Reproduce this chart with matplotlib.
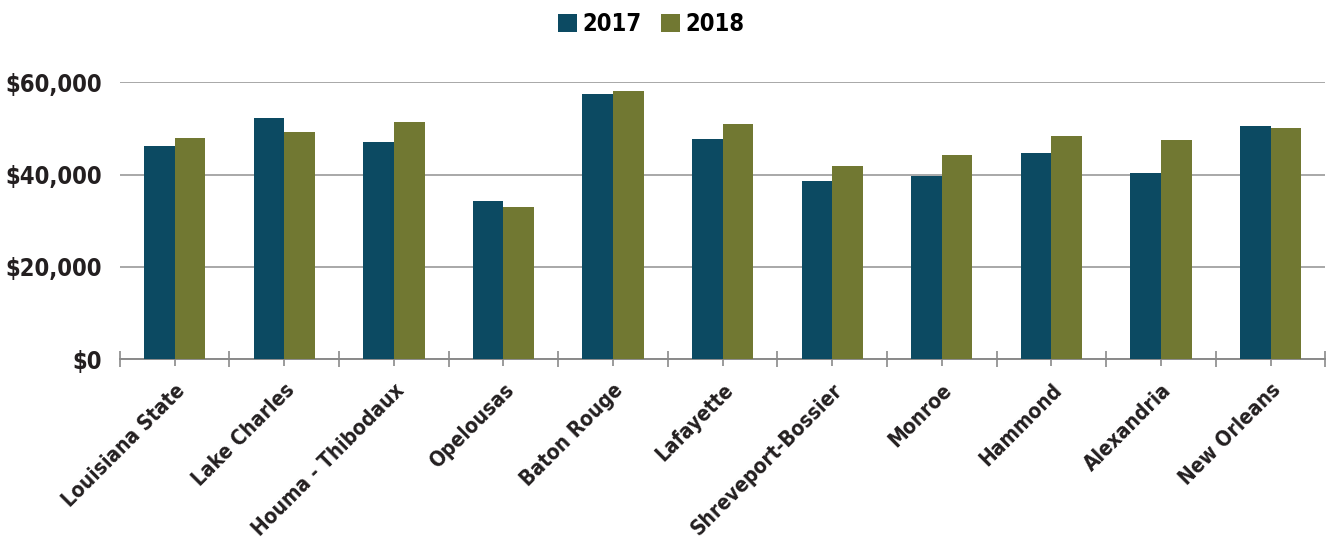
import numpy as np
import matplotlib.pyplot as plt
from matplotlib.ticker import FixedLocator, FuncFormatter

# Data
regions = ['Louisiana State', 'Lake Charles', 'Houma - Thibodaux', 'Opelousas',
           'Baton Rouge', 'Lafayette', 'Shreveport-Bossier', 'Monroe',
           'Hammond', 'Alexandria', 'New Orleans']
values_2017 = [46100, 52200, 47000, 34200, 57500, 47800, 38500, 39600, 44700, 40300, 50500]
values_2018 = [47900, 49200, 51400, 33000, 58000, 51000, 41800, 44300, 48300, 47400, 50100]
yticks = [0, 20000, 40000, 60000]

color_2017 = '#0c4a62'
color_2018 = '#717832'

plt.rcParams['font.family'] = ['DejaVu Sans']
plt.rcParams['font.stretch'] = 'condensed'
plt.rcParams['font.weight'] = 'bold'

fig = plt.figure(figsize=(13.32, 5.37), dpi=100)
ax = fig.add_axes([0.090, 0.331, 0.905, 0.516])

x = np.arange(len(regions))
w = 0.28
ax.bar(x - w / 2, values_2017, w, color=color_2017, label='2017', zorder=3)
ax.bar(x + w / 2, values_2018, w, color=color_2018, label='2018', zorder=3)

ax.set_xlim(-0.5, len(regions) - 0.5)
ax.set_ylim(0, 60000)
ax.set_yticks(yticks)
ax.yaxis.set_major_formatter(FuncFormatter(lambda v, p: '${:,.0f}'.format(v)))
ax.tick_params(axis='y', length=0, pad=13, labelsize=17, labelcolor='#231f20')
ax.grid(axis='y', color='#a8a8a8', linewidth=1.4, zorder=0)

ax.set_xticks(x)
ax.set_xticklabels(regions, rotation=45, ha='right', rotation_mode='anchor',
                   fontsize=15, color='#231f20')
ax.xaxis.set_minor_locator(FixedLocator(np.arange(-0.5, len(regions), 1.0)))
ax.tick_params(axis='x', which='major', length=5, width=1.2, color='#8a8a8a', pad=10)
ax.tick_params(axis='x', which='minor', length=12, width=1.2, color='#8a8a8a', direction='inout')

for s in ['top', 'right', 'left']:
    ax.spines[s].set_visible(False)
ax.spines['bottom'].set_color('#8a8a8a')
ax.spines['bottom'].set_linewidth(1.4)
ax.set_axisbelow(True)

fig.legend(loc='center', bbox_to_anchor=(0.489, 0.955), ncol=2, frameon=False,
           fontsize=17, handlelength=0.8, handleheight=0.8, handletextpad=0.25,
           columnspacing=0.8)

plt.savefig('out.png')
